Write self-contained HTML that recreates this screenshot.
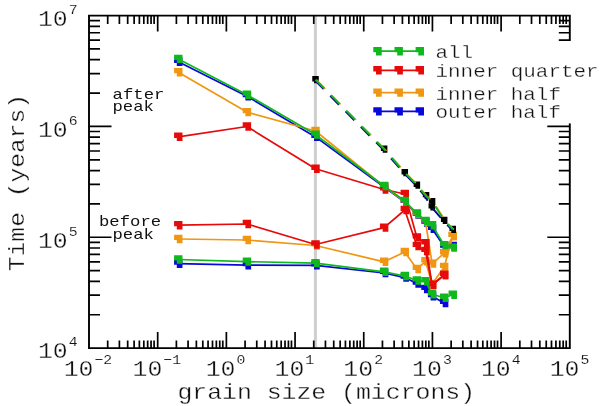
<!DOCTYPE html>
<html><head><meta charset="utf-8"><title>Time vs grain size</title>
<style>
html,body{margin:0;padding:0;background:#fff;}
body{width:600px;height:406px;overflow:hidden;}
svg{display:block;font-family:'Liberation Mono', monospace;}
text{stroke:#fff;stroke-width:0.3px;}
text.sm{stroke:none;}
tspan{stroke-width:0.12px;}
</style></head><body>
<svg width="600" height="406" viewBox="0 0 600 406">
<rect width="600" height="406" fill="#fff"/>
<rect x="313.92" y="15.6" width="3" height="332.50" fill="#cfcfcf"/>
<path d="M89.0,15.6 H569.8 M89.0,348.1 H569.8 M89.0,14.7 V349.0 M569.8,14.7 V349.0" stroke="#000" stroke-width="1.9" fill="none"/>
<path d="M107.70,348.1 v-7.6 M107.70,15.6 v8.4 M119.39,348.1 v-7.6 M119.39,15.6 v8.4 M127.68,348.1 v-7.6 M127.68,15.6 v8.4 M134.12,348.1 v-7.6 M134.12,15.6 v8.4 M139.37,348.1 v-7.6 M139.37,15.6 v8.4 M143.82,348.1 v-7.6 M143.82,15.6 v8.4 M147.67,348.1 v-7.6 M147.67,15.6 v8.4 M151.06,348.1 v-7.6 M151.06,15.6 v8.4 M154.10,348.1 v-7.6 M154.10,15.6 v8.4 M157.69,348.1 v-16 M157.69,15.6 v16 M176.39,348.1 v-7.6 M176.39,15.6 v8.4 M188.08,348.1 v-7.6 M188.08,15.6 v8.4 M196.37,348.1 v-7.6 M196.37,15.6 v8.4 M202.80,348.1 v-7.6 M202.80,15.6 v8.4 M208.06,348.1 v-7.6 M208.06,15.6 v8.4 M212.50,348.1 v-7.6 M212.50,15.6 v8.4 M216.35,348.1 v-7.6 M216.35,15.6 v8.4 M219.75,348.1 v-7.6 M219.75,15.6 v8.4 M222.79,348.1 v-7.6 M222.79,15.6 v8.4 M226.37,348.1 v-16 M226.37,15.6 v16 M245.07,348.1 v-7.6 M245.07,15.6 v8.4 M256.76,348.1 v-7.6 M256.76,15.6 v8.4 M265.06,348.1 v-7.6 M265.06,15.6 v8.4 M271.49,348.1 v-7.6 M271.49,15.6 v8.4 M276.75,348.1 v-7.6 M276.75,15.6 v8.4 M281.19,348.1 v-7.6 M281.19,15.6 v8.4 M285.04,348.1 v-7.6 M285.04,15.6 v8.4 M288.43,348.1 v-7.6 M288.43,15.6 v8.4 M291.47,348.1 v-7.6 M291.47,15.6 v8.4 M295.06,348.1 v-16 M295.06,15.6 v16 M313.76,348.1 v-7.6 M313.76,15.6 v8.4 M325.45,348.1 v-7.6 M325.45,15.6 v8.4 M333.74,348.1 v-7.6 M333.74,15.6 v8.4 M340.17,348.1 v-7.6 M340.17,15.6 v8.4 M345.43,348.1 v-7.6 M345.43,15.6 v8.4 M349.87,348.1 v-7.6 M349.87,15.6 v8.4 M353.72,348.1 v-7.6 M353.72,15.6 v8.4 M357.12,348.1 v-7.6 M357.12,15.6 v8.4 M360.16,348.1 v-7.6 M360.16,15.6 v8.4 M363.74,348.1 v-16 M363.74,15.6 v16 M382.45,348.1 v-7.6 M382.45,15.6 v8.4 M394.13,348.1 v-7.6 M394.13,15.6 v8.4 M402.43,348.1 v-7.6 M402.43,15.6 v8.4 M408.86,348.1 v-7.6 M408.86,15.6 v8.4 M414.12,348.1 v-7.6 M414.12,15.6 v8.4 M418.56,348.1 v-7.6 M418.56,15.6 v8.4 M422.41,348.1 v-7.6 M422.41,15.6 v8.4 M425.81,348.1 v-7.6 M425.81,15.6 v8.4 M428.84,348.1 v-7.6 M428.84,15.6 v8.4 M432.43,348.1 v-16 M432.43,15.6 v16 M451.13,348.1 v-7.6 M451.13,15.6 v8.4 M462.82,348.1 v-7.6 M462.82,15.6 v8.4 M471.11,348.1 v-7.6 M471.11,15.6 v8.4 M477.55,348.1 v-7.6 M477.55,15.6 v8.4 M482.80,348.1 v-7.6 M482.80,15.6 v8.4 M487.25,348.1 v-7.6 M487.25,15.6 v8.4 M491.10,348.1 v-7.6 M491.10,15.6 v8.4 M494.49,348.1 v-7.6 M494.49,15.6 v8.4 M497.53,348.1 v-7.6 M497.53,15.6 v8.4 M501.11,348.1 v-16 M501.11,15.6 v16 M519.82,348.1 v-7.6 M519.82,15.6 v8.4 M531.51,348.1 v-7.6 M531.51,15.6 v8.4 M539.80,348.1 v-7.6 M539.80,15.6 v8.4 M546.23,348.1 v-7.6 M546.23,15.6 v8.4 M551.49,348.1 v-7.6 M551.49,15.6 v8.4 M555.93,348.1 v-7.6 M555.93,15.6 v8.4 M559.78,348.1 v-7.6 M559.78,15.6 v8.4 M563.18,348.1 v-7.6 M563.18,15.6 v8.4 M566.21,348.1 v-7.6 M566.21,15.6 v8.4 M89.0,314.74 h11 M569.8,314.74 h-11 M89.0,295.22 h11 M569.8,295.22 h-11 M89.0,281.37 h11 M569.8,281.37 h-11 M89.0,270.63 h11 M569.8,270.63 h-11 M89.0,261.85 h11 M569.8,261.85 h-11 M89.0,254.43 h11 M569.8,254.43 h-11 M89.0,248.01 h11 M569.8,248.01 h-11 M89.0,242.34 h11 M569.8,242.34 h-11 M89.0,237.27 h22.5 M569.8,237.27 h-22.5 M89.0,203.90 h11 M569.8,203.90 h-11 M89.0,184.39 h11 M569.8,184.39 h-11 M89.0,170.54 h11 M569.8,170.54 h-11 M89.0,159.80 h11 M569.8,159.80 h-11 M89.0,151.02 h11 M569.8,151.02 h-11 M89.0,143.60 h11 M569.8,143.60 h-11 M89.0,137.17 h11 M569.8,137.17 h-11 M89.0,131.50 h11 M569.8,131.50 h-11 M89.0,126.43 h22.5 M569.8,126.43 h-22.5 M89.0,93.07 h11 M569.8,93.07 h-11 M89.0,73.55 h11 M569.8,73.55 h-11 M89.0,59.71 h11 M569.8,59.71 h-11 M89.0,48.96 h11 M569.8,48.96 h-11 M89.0,40.19 h11 M569.8,40.19 h-11 M89.0,32.77 h11 M569.8,32.77 h-11 M89.0,26.34 h11 M569.8,26.34 h-11 M89.0,20.67 h11 M569.8,20.67 h-11" stroke="#000" stroke-width="1.7" fill="none"/>
<polyline points="178.3,61.8 246.9,96.2 315.5,136.9 384.1,187.0 404.8,202.0 416.9,214.6 425.5,222.6 432.1,228.8 444.2,246.6 452.8,246.0" fill="none" stroke="#0808dc" stroke-width="1.7" stroke-linejoin="round"/>
<path d="M174.08,57.60H182.48V66.00H176.78V62.90H174.08Z" fill="#0808dc"/>
<path d="M242.70,92.00H251.10V100.40H245.40V97.30H242.70Z" fill="#0808dc"/>
<path d="M311.32,132.70H319.72V141.10H314.02V138.00H311.32Z" fill="#0808dc"/>
<path d="M379.94,182.80H388.34V191.20H382.64V188.10H379.94Z" fill="#0808dc"/>
<path d="M400.59,197.80H408.99V206.20H403.29V203.10H400.59Z" fill="#0808dc"/>
<path d="M412.68,210.40H421.08V218.80H415.38V215.70H412.68Z" fill="#0808dc"/>
<path d="M421.25,218.40H429.65V226.80H423.95V223.70H421.25Z" fill="#0808dc"/>
<path d="M427.90,224.60H436.30V233.00H430.60V229.90H427.90Z" fill="#0808dc"/>
<path d="M439.98,242.40H448.38V250.80H442.68V247.70H439.98Z" fill="#0808dc"/>
<path d="M448.56,241.80H456.96V250.20H451.26V247.10H448.56Z" fill="#0808dc"/>
<polyline points="178.3,263.7 246.9,265.2 315.5,265.3 384.1,273.0 404.8,277.6 416.9,283.6 425.5,289.0 432.1,296.2 444.2,303.0" fill="none" stroke="#0808dc" stroke-width="1.7" stroke-linejoin="round"/>
<path d="M174.08,259.50H182.48V267.90H176.78V264.80H174.08Z" fill="#0808dc"/>
<path d="M242.70,261.00H251.10V269.40H245.40V266.30H242.70Z" fill="#0808dc"/>
<path d="M311.32,261.10H319.72V269.50H314.02V266.40H311.32Z" fill="#0808dc"/>
<path d="M379.94,268.80H388.34V277.20H382.64V274.10H379.94Z" fill="#0808dc"/>
<path d="M400.59,273.40H408.99V281.80H403.29V278.70H400.59Z" fill="#0808dc"/>
<path d="M412.68,279.40H421.08V287.80H415.38V284.70H412.68Z" fill="#0808dc"/>
<path d="M421.25,284.80H429.65V293.20H423.95V290.10H421.25Z" fill="#0808dc"/>
<path d="M427.90,292.00H436.30V300.40H430.60V297.30H427.90Z" fill="#0808dc"/>
<path d="M439.98,298.80H448.38V307.20H442.68V304.10H439.98Z" fill="#0808dc"/>
<polyline points="178.3,72.2 246.9,112.1 315.5,131.0 384.1,186.5 404.8,201.5 416.9,214.0 425.5,221.5 432.1,263.6 444.2,253.3 452.8,236.0" fill="none" stroke="#f09612" stroke-width="1.7" stroke-linejoin="round"/>
<path d="M174.08,68.00H182.48V76.40H176.78V73.30H174.08Z" fill="#f09612"/>
<path d="M242.70,107.90H251.10V116.30H245.40V113.20H242.70Z" fill="#f09612"/>
<path d="M311.32,126.80H319.72V135.20H314.02V132.10H311.32Z" fill="#f09612"/>
<path d="M379.94,182.30H388.34V190.70H382.64V187.60H379.94Z" fill="#f09612"/>
<path d="M400.59,197.30H408.99V205.70H403.29V202.60H400.59Z" fill="#f09612"/>
<path d="M412.68,209.80H421.08V218.20H415.38V215.10H412.68Z" fill="#f09612"/>
<path d="M421.25,217.30H429.65V225.70H423.95V222.60H421.25Z" fill="#f09612"/>
<path d="M427.90,259.40H436.30V267.80H430.60V264.70H427.90Z" fill="#f09612"/>
<path d="M439.98,249.10H448.38V257.50H442.68V254.40H439.98Z" fill="#f09612"/>
<path d="M448.56,231.80H456.96V240.20H451.26V237.10H448.56Z" fill="#f09612"/>
<polyline points="178.3,239.0 246.9,240.0 315.5,245.5 384.1,261.8 404.8,252.0 416.9,269.0 425.5,261.3 432.1,284.0 444.2,267.0 452.8,236.0" fill="none" stroke="#f09612" stroke-width="1.7" stroke-linejoin="round"/>
<path d="M174.08,234.80H182.48V243.20H176.78V240.10H174.08Z" fill="#f09612"/>
<path d="M242.70,235.80H251.10V244.20H245.40V241.10H242.70Z" fill="#f09612"/>
<path d="M311.32,241.30H319.72V249.70H314.02V246.60H311.32Z" fill="#f09612"/>
<path d="M379.94,257.60H388.34V266.00H382.64V262.90H379.94Z" fill="#f09612"/>
<path d="M400.59,247.80H408.99V256.20H403.29V253.10H400.59Z" fill="#f09612"/>
<path d="M412.68,264.80H421.08V273.20H415.38V270.10H412.68Z" fill="#f09612"/>
<path d="M421.25,257.10H429.65V265.50H423.95V262.40H421.25Z" fill="#f09612"/>
<path d="M427.90,279.80H436.30V288.20H430.60V285.10H427.90Z" fill="#f09612"/>
<path d="M439.98,262.80H448.38V271.20H442.68V268.10H439.98Z" fill="#f09612"/>
<path d="M448.56,231.80H456.96V240.20H451.26V237.10H448.56Z" fill="#f09612"/>
<polyline points="178.3,136.8 246.9,126.5 315.5,168.8 384.1,189.5 404.8,194.0 416.9,237.4 425.5,243.3 432.1,285.0 444.2,275.0" fill="none" stroke="#e60a0a" stroke-width="1.7" stroke-linejoin="round"/>
<path d="M174.08,132.60H182.48V141.00H176.78V137.90H174.08Z" fill="#e60a0a"/>
<path d="M242.70,122.30H251.10V130.70H245.40V127.60H242.70Z" fill="#e60a0a"/>
<path d="M311.32,164.60H319.72V173.00H314.02V169.90H311.32Z" fill="#e60a0a"/>
<path d="M379.94,185.30H388.34V193.70H382.64V190.60H379.94Z" fill="#e60a0a"/>
<path d="M400.59,189.80H408.99V198.20H403.29V195.10H400.59Z" fill="#e60a0a"/>
<path d="M412.68,233.20H421.08V241.60H415.38V238.50H412.68Z" fill="#e60a0a"/>
<path d="M421.25,239.10H429.65V247.50H423.95V244.40H421.25Z" fill="#e60a0a"/>
<path d="M427.90,280.80H436.30V289.20H430.60V286.10H427.90Z" fill="#e60a0a"/>
<path d="M439.98,270.80H448.38V279.20H442.68V276.10H439.98Z" fill="#e60a0a"/>
<polyline points="178.3,225.2 246.9,224.0 315.5,244.5 384.1,227.6 404.8,210.0 416.9,246.0 425.5,251.0 432.1,285.0 444.2,275.0" fill="none" stroke="#e60a0a" stroke-width="1.7" stroke-linejoin="round"/>
<path d="M174.08,221.00H182.48V229.40H176.78V226.30H174.08Z" fill="#e60a0a"/>
<path d="M242.70,219.80H251.10V228.20H245.40V225.10H242.70Z" fill="#e60a0a"/>
<path d="M311.32,240.30H319.72V248.70H314.02V245.60H311.32Z" fill="#e60a0a"/>
<path d="M379.94,223.40H388.34V231.80H382.64V228.70H379.94Z" fill="#e60a0a"/>
<path d="M400.59,205.80H408.99V214.20H403.29V211.10H400.59Z" fill="#e60a0a"/>
<path d="M412.68,241.80H421.08V250.20H415.38V247.10H412.68Z" fill="#e60a0a"/>
<path d="M421.25,246.80H429.65V255.20H423.95V252.10H421.25Z" fill="#e60a0a"/>
<path d="M427.90,280.80H436.30V289.20H430.60V286.10H427.90Z" fill="#e60a0a"/>
<path d="M439.98,270.80H448.38V279.20H442.68V276.10H439.98Z" fill="#e60a0a"/>
<polyline points="178.3,58.9 246.9,94.7 315.5,134.6 384.1,186.0 404.8,201.0 416.9,213.4 425.5,221.0 432.1,225.3 444.2,245.1 452.8,247.6" fill="none" stroke="#0fb81c" stroke-width="1.7" stroke-linejoin="round"/>
<path d="M174.08,54.70H182.48V63.10H176.78V60.00H174.08Z" fill="#0fb81c"/>
<path d="M242.70,90.50H251.10V98.90H245.40V95.80H242.70Z" fill="#0fb81c"/>
<path d="M311.32,130.40H319.72V138.80H314.02V135.70H311.32Z" fill="#0fb81c"/>
<path d="M379.94,181.80H388.34V190.20H382.64V187.10H379.94Z" fill="#0fb81c"/>
<path d="M400.59,196.80H408.99V205.20H403.29V202.10H400.59Z" fill="#0fb81c"/>
<path d="M412.68,209.20H421.08V217.60H415.38V214.50H412.68Z" fill="#0fb81c"/>
<path d="M421.25,216.80H429.65V225.20H423.95V222.10H421.25Z" fill="#0fb81c"/>
<path d="M427.90,221.10H436.30V229.50H430.60V226.40H427.90Z" fill="#0fb81c"/>
<path d="M439.98,240.90H448.38V249.30H442.68V246.20H439.98Z" fill="#0fb81c"/>
<path d="M448.56,243.40H456.96V251.80H451.26V248.70H448.56Z" fill="#0fb81c"/>
<polyline points="178.3,259.5 246.9,261.6 315.5,263.1 384.1,271.8 404.8,276.0 416.9,280.5 425.5,281.3 432.1,294.3 444.2,297.8 452.8,294.8" fill="none" stroke="#0fb81c" stroke-width="1.7" stroke-linejoin="round"/>
<path d="M174.08,255.30H182.48V263.70H176.78V260.60H174.08Z" fill="#0fb81c"/>
<path d="M242.70,257.40H251.10V265.80H245.40V262.70H242.70Z" fill="#0fb81c"/>
<path d="M311.32,258.90H319.72V267.30H314.02V264.20H311.32Z" fill="#0fb81c"/>
<path d="M379.94,267.60H388.34V276.00H382.64V272.90H379.94Z" fill="#0fb81c"/>
<path d="M400.59,271.80H408.99V280.20H403.29V277.10H400.59Z" fill="#0fb81c"/>
<path d="M412.68,276.30H421.08V284.70H415.38V281.60H412.68Z" fill="#0fb81c"/>
<path d="M421.25,277.10H429.65V285.50H423.95V282.40H421.25Z" fill="#0fb81c"/>
<path d="M427.90,290.10H436.30V298.50H430.60V295.40H427.90Z" fill="#0fb81c"/>
<path d="M439.98,293.60H448.38V302.00H442.68V298.90H439.98Z" fill="#0fb81c"/>
<path d="M448.56,290.60H456.96V299.00H451.26V295.90H448.56Z" fill="#0fb81c"/>
<path d="M312.27,76.00H318.77V83.20H314.07V81.40H312.27Z" fill="#000"/>
<path d="M380.89,145.60H387.39V152.80H382.69V151.00H380.89Z" fill="#000"/>
<path d="M401.54,169.10H408.04V176.30H403.34V174.50H401.54Z" fill="#000"/>
<path d="M413.63,181.50H420.13V188.70H415.43V186.90H413.63Z" fill="#000"/>
<path d="M422.80,191.90H429.30V199.10H424.60V197.30H422.80Z" fill="#000"/>
<path d="M428.85,197.90H435.35V205.10H430.65V203.30H428.85Z" fill="#000"/>
<path d="M440.93,216.70H447.43V223.90H442.73V222.10H440.93Z" fill="#000"/>
<path d="M449.51,225.70H456.01V232.90H451.31V231.10H449.51Z" fill="#000"/>
<path d="M428.55,203.20H435.05V210.40H430.35V208.60H428.55Z" fill="#000"/>
<polyline points="314.9,80.3 383.5,149.9 404.2,173.4 416.3,185.8 424.9,196.2 431.5,207.2 443.6,221.0 452.2,230.0" fill="none" stroke="#06068c" stroke-width="1.9" stroke-linejoin="round" stroke-dasharray="12.5 9.3"/>
<polyline points="316.6,79.8 385.2,149.4 405.9,172.9 418.0,185.3 426.6,195.7 433.2,201.7 445.3,220.5 453.9,229.5" fill="none" stroke="#f09612" stroke-width="1.4" stroke-linejoin="round" stroke-dasharray="12.5 9.3"/>
<polyline points="315.5,79.6 384.1,149.2 404.8,172.7 416.9,185.1 425.5,195.5 432.1,201.5 444.2,220.3 452.8,229.3" fill="none" stroke="#0fb81c" stroke-width="1.8" stroke-linejoin="round" stroke-dasharray="12.5 9.3"/>
<rect x="366" y="41" width="234" height="82.4" fill="#fff"/>
<polyline points="377.5,51.2 398.7,51.2 419.8,51.2" fill="none" stroke="#0fb81c" stroke-width="1.7" stroke-linejoin="round"/>
<path d="M373.30,47.00H381.70V55.40H376.00V52.30H373.30Z" fill="#0fb81c"/>
<path d="M394.50,47.00H402.90V55.40H397.20V52.30H394.50Z" fill="#0fb81c"/>
<path d="M415.60,47.00H424.00V55.40H418.30V52.30H415.60Z" fill="#0fb81c"/>
<text transform="translate(435.5,57.7) scale(1.101,1)" font-size="19" fill="#111">all</text>
<polyline points="377.5,70.3 398.7,70.3 419.8,70.3" fill="none" stroke="#e60a0a" stroke-width="1.7" stroke-linejoin="round"/>
<path d="M373.30,66.10H381.70V74.50H376.00V71.40H373.30Z" fill="#e60a0a"/>
<path d="M394.50,66.10H402.90V74.50H397.20V71.40H394.50Z" fill="#e60a0a"/>
<path d="M415.60,66.10H424.00V74.50H418.30V71.40H415.60Z" fill="#e60a0a"/>
<text transform="translate(435.5,77.4) scale(1.101,1)" font-size="19" fill="#111">inner quarter</text>
<polyline points="377.5,92.6 398.7,92.6 419.8,92.6" fill="none" stroke="#f09612" stroke-width="1.7" stroke-linejoin="round"/>
<path d="M373.30,88.40H381.70V96.80H376.00V93.70H373.30Z" fill="#f09612"/>
<path d="M394.50,88.40H402.90V96.80H397.20V93.70H394.50Z" fill="#f09612"/>
<path d="M415.60,88.40H424.00V96.80H418.30V93.70H415.60Z" fill="#f09612"/>
<text transform="translate(435.5,99.5) scale(1.101,1)" font-size="19" fill="#111">inner half</text>
<polyline points="377.5,111.4 398.7,111.4 419.8,111.4" fill="none" stroke="#0808dc" stroke-width="1.7" stroke-linejoin="round"/>
<path d="M373.30,107.20H381.70V115.60H376.00V112.50H373.30Z" fill="#0808dc"/>
<path d="M394.50,107.20H402.90V115.60H397.20V112.50H394.50Z" fill="#0808dc"/>
<path d="M415.60,107.20H424.00V115.60H418.30V112.50H415.60Z" fill="#0808dc"/>
<text transform="translate(435.5,118.3) scale(1.101,1)" font-size="19" fill="#111">outer half</text>
<text transform="translate(87.95,376.2) scale(1.12,1)" font-size="22.2" text-anchor="middle" fill="#111">10<tspan font-size="13.2" dx="0.9" dy="-12.1">−2</tspan></text>
<text transform="translate(156.75,376.2) scale(1.12,1)" font-size="22.2" text-anchor="middle" fill="#111">10<tspan font-size="13.2" dx="0.9" dy="-12.1">−1</tspan></text>
<text transform="translate(225.55,376.2) scale(1.12,1)" font-size="22.2" text-anchor="middle" fill="#111">10<tspan font-size="13.2" dx="0.9" dy="-12.1">0</tspan></text>
<text transform="translate(294.35,376.2) scale(1.12,1)" font-size="22.2" text-anchor="middle" fill="#111">10<tspan font-size="13.2" dx="0.9" dy="-12.1">1</tspan></text>
<text transform="translate(363.15,376.2) scale(1.12,1)" font-size="22.2" text-anchor="middle" fill="#111">10<tspan font-size="13.2" dx="0.9" dy="-12.1">2</tspan></text>
<text transform="translate(431.95,376.2) scale(1.12,1)" font-size="22.2" text-anchor="middle" fill="#111">10<tspan font-size="13.2" dx="0.9" dy="-12.1">3</tspan></text>
<text transform="translate(500.75,376.2) scale(1.12,1)" font-size="22.2" text-anchor="middle" fill="#111">10<tspan font-size="13.2" dx="0.9" dy="-12.1">4</tspan></text>
<text transform="translate(569.55,376.2) scale(1.12,1)" font-size="22.2" text-anchor="middle" fill="#111">10<tspan font-size="13.2" dx="0.9" dy="-12.1">5</tspan></text>
<text transform="translate(77.60,358.4) scale(1.12,1)" font-size="22.2" text-anchor="end" fill="#111">10<tspan font-size="13.2" dx="0.9" dy="-12.1">4</tspan></text>
<text transform="translate(77.60,247.6) scale(1.12,1)" font-size="22.2" text-anchor="end" fill="#111">10<tspan font-size="13.2" dx="0.9" dy="-12.1">5</tspan></text>
<text transform="translate(77.60,136.7) scale(1.12,1)" font-size="22.2" text-anchor="end" fill="#111">10<tspan font-size="13.2" dx="0.9" dy="-12.1">6</tspan></text>
<text transform="translate(77.60,25.9) scale(1.12,1)" font-size="22.2" text-anchor="end" fill="#111">10<tspan font-size="13.2" dx="0.9" dy="-12.1">7</tspan></text>
<text transform="translate(177.4,398.7) scale(1.154,1)" font-size="21.5" fill="#111">grain size (microns)</text>
<text transform="translate(23.9,271.2) rotate(-90) scale(1.146,1)" font-size="21.5" fill="#111">Time (years)</text>
<text class="sm" transform="translate(112.6,98.5) scale(1.235,1)" font-size="14" fill="#111">after</text>
<text class="sm" transform="translate(112.5,111.3) scale(1.235,1)" font-size="14" fill="#111">peak</text>
<text class="sm" transform="translate(99.0,226.3) scale(1.235,1)" font-size="14" fill="#111">before</text>
<text class="sm" transform="translate(112.5,239.3) scale(1.235,1)" font-size="14" fill="#111">peak</text>
</svg>
</body></html>
